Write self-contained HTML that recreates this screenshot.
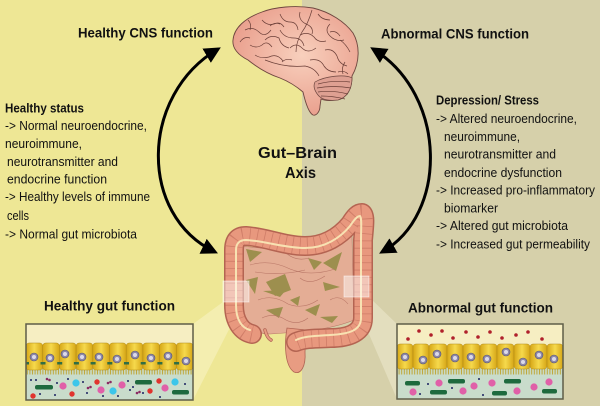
<!DOCTYPE html>
<html><head><meta charset="utf-8">
<style>
html,body{margin:0;padding:0;width:600px;height:406px;overflow:hidden;background:#eee795}
svg{display:block}
text{font-family:"Liberation Sans",sans-serif;fill:#111}
.b{font-weight:bold}
</style></head>
<body>
<svg width="600" height="406" viewBox="0 0 600 406" xmlns="http://www.w3.org/2000/svg">
<defs>
<radialGradient id="brainG" cx="0.55" cy="0.45" r="0.6">
<stop offset="0" stop-color="#f8d0bd"/><stop offset="1" stop-color="#e99d8b"/>
</radialGradient>
<linearGradient id="cellG" x1="0" y1="0" x2="1" y2="0">
<stop offset="0" stop-color="#d6a616"/><stop offset="0.5" stop-color="#f6d94c"/><stop offset="1" stop-color="#d6a616"/>
</linearGradient>
<pattern id="villi" width="2.6" height="8" patternUnits="userSpaceOnUse">
<rect width="2.6" height="8" fill="#c9dccb"/>
<path d="M1.3 0 L1.3 6.5" stroke="#bfa634" stroke-width="1"/>
</pattern>
<marker id="ah" viewBox="0 0 10 10" refX="8" refY="5" markerWidth="5.5" markerHeight="5.5" orient="auto-start-reverse" markerUnits="strokeWidth">
<path d="M0 0 L10 5 L0 10 Z" fill="#000"/>
</marker>
</defs>

<!-- backgrounds -->
<rect x="0" y="0" width="302" height="406" fill="#eee795"/>
<rect x="302" y="0" width="298" height="406" fill="#d6d0aa"/>

<!-- beams -->
<polygon points="223,302 243,302 193,400 193,324" fill="#fbf7d0" opacity="0.45"/>
<polygon points="353,297 369,297 397,324 397,399" fill="#f3efd6" opacity="0.45"/>

<!-- arrows -->
<path d="M 218 49 C 140 95, 138 215, 215 252" fill="none" stroke="#000" stroke-width="3" marker-start="url(#ah)" marker-end="url(#ah)"/>
<path d="M 373 49 C 448 95, 448 215, 382 252" fill="none" stroke="#000" stroke-width="3" marker-start="url(#ah)" marker-end="url(#ah)"/>

<!-- brain -->
<path d="M 233 40 C 234 28, 245 18, 262 12 C 275 7, 295 5, 313 8 C 330 12, 345 22, 353 33 C 360 45, 360 62, 352 76 C 352 88, 348 96, 340 99 C 333 101, 325 101, 321 99 L 320 106 C 320 112, 316 116, 313 115 C 309 113, 306 105, 303 92 C 296 86, 290 82, 280 78 C 268 74, 258 68, 248 60 C 238 55, 232 48, 233 40 Z" fill="url(#brainG)" stroke="#6e463f" stroke-width="0.9"/>
<path d="M 315 82 C 325 76, 345 74, 352 78 C 352 90, 346 98, 338 100 C 330 101, 322 100, 318 95 C 314 90, 313 86, 315 82 Z" fill="#dea092" stroke="#6e463f" stroke-width="0.7"/>
<g fill="none" stroke="#6b3f38" stroke-width="0.7">
<path d="M 318 84 q 15 -4 32 -2"/><path d="M 317 88 q 16 -3 34 0"/><path d="M 318 92 q 14 -2 30 2"/><path d="M 321 96 q 12 0 24 3"/>
<path d="M 245 30 q 8 -4 14 2 t 12 -2"/>
<path d="M 250 45 q 6 4 12 0 q 5 -5 10 2"/>
<path d="M 262 20 q 5 6 12 4 q 6 -3 10 3"/>
<path d="M 280 14 q 3 8 10 8 q 7 0 8 8"/>
<path d="M 300 12 q -2 8 6 12 q 8 3 6 10"/>
<path d="M 318 14 q 4 6 12 6"/>
<path d="M 330 24 q -6 6 0 12 q 6 6 14 4"/>
<path d="M 340 40 q 6 4 10 12"/>
<path d="M 325 50 q 8 -2 12 6 q 2 8 10 10"/>
<path d="M 300 35 q 8 -4 14 2 q 4 6 12 4"/>
<path d="M 280 30 q 4 8 14 8 q 8 0 10 8"/>
<path d="M 265 40 q 6 -6 14 -2 q 2 8 10 10"/>
<path d="M 255 55 q 6 4 14 2 q 8 -4 14 4"/>
<path d="M 290 48 q 6 -6 12 0 q 6 6 14 0"/>
<path d="M 310 60 q 10 -2 14 6 q 4 6 12 6"/>
<path d="M 265 60 q 20 8 40 6 q 10 2 14 10"/>
<path d="M 240 42 q 4 -6 10 -4"/>
<path d="M 345 62 q -4 6 -2 12"/>
<path d="M 312 10 q -4 14 -10 22 q -6 10 -6 20"/>
<path d="M 270 26 q 4 -4 10 -2"/>
<path d="M 330 32 q 6 -2 10 4"/>
<path d="M 248 20 q 4 4 2 10"/>
<path d="M 282 62 q 4 -4 10 -2"/>
<path d="M 338 72 q 6 -2 10 2"/>
</g>

<!-- gut interior -->
<path d="M 243 246 C 270 250, 320 252, 352 236 L 354 320 C 330 330, 300 332, 270 334 C 255 334, 245 325, 243 315 Z" fill="#e4ad95" stroke="#b87666" stroke-width="0.6"/>
<g fill="#9d8f4e">
<polygon points="246,249 262,252 250,262"/>
<polygon points="323,263 342,252 336,271"/>
<polygon points="308,258 322,262 314,270"/>
<polygon points="323,282 340,287 325,291"/>
<polygon points="266,282 285,274 291,290 275,296"/>
<polygon points="246,280 258,277 255,294"/>
<polygon points="266,310 283,307 279,318"/>
<polygon points="305,310 320,304 316,316"/>
<polygon points="320,317 338,316 332,323"/>
<polygon points="263,291 286,290 280,297"/>
<polygon points="290,300 300,296 298,306"/>
</g>
<g fill="none" stroke="#b87666" stroke-width="0.6">
<path d="M 250 265 q 20 -6 40 4 q 20 8 45 0"/>
<path d="M 255 272 q 25 4 50 -2"/>
<path d="M 258 300 q 15 -6 30 4 q 15 6 30 -4"/>
<path d="M 300 278 q 10 8 25 -2"/>
<path d="M 262 318 q 12 -6 24 2 q 12 6 22 -2"/>
<path d="M 285 252 q 10 10 24 6"/>
<path d="M 330 300 q 10 -6 18 4"/>
</g>

<!-- rectum -->
<path d="M 287 328 C 284 345, 285 366, 294 372 C 301 375, 306 366, 305 352 L 306 330 Z" fill="#e89c82" stroke="#b06454" stroke-width="0.8"/>
<!-- appendix -->
<path d="M 265 330 q 2 8 6 10" fill="none" stroke="#b06454" stroke-width="3.5" stroke-linecap="round"/>
<path d="M 265 330 q 2 8 6 10" fill="none" stroke="#e89c82" stroke-width="2" stroke-linecap="round"/>

<!-- colon -->
<g fill="none" stroke-linecap="round" stroke-linejoin="round">
<path d="M 252 334 C 242 332, 234 322, 234 305 L 234 250 C 234 240, 238 236, 246 236 C 265 237, 285 246, 305 246 C 325 246, 340 236, 350 224 C 355 216, 358 213, 362 213 C 366 215, 364 228, 363 240 L 363 318 C 363 332, 350 338, 330 338 C 315 339, 305 338, 296 342" stroke="#b46452" stroke-width="20"/>
<path d="M 252 334 C 242 332, 234 322, 234 305 L 234 250 C 234 240, 238 236, 246 236 C 265 237, 285 246, 305 246 C 325 246, 340 236, 350 224 C 355 216, 358 213, 362 213 C 366 215, 364 228, 363 240 L 363 318 C 363 332, 350 338, 330 338 C 315 339, 305 338, 296 342" stroke="#e8987e" stroke-width="17"/>
<path d="M 252 334 C 242 332, 234 322, 234 305 L 234 250 C 234 240, 238 236, 246 236 C 265 237, 285 246, 305 246 C 325 246, 340 236, 350 224 C 355 216, 358 213, 362 213 C 366 215, 364 228, 363 240 L 363 318 C 363 332, 350 338, 330 338 C 315 339, 305 338, 296 342" stroke="#cf7d68" stroke-width="17" stroke-dasharray="0.8 6.5" stroke-linecap="butt"/>
<path d="M 250 330 C 242 328, 236 320, 236 305 L 236 250 C 236 243, 240 240, 246 240 C 265 241, 285 248, 305 248 C 325 248, 340 238, 350 226 C 354 220, 357 216, 360 216 C 362 218, 361 228, 361 240 L 361 318 C 361 330, 350 334, 330 335 C 315 336, 305 336, 296 340" stroke="#f8e2b2" stroke-width="2"/>
</g>

<!-- squares -->
<rect x="223" y="281" width="26" height="21" fill="#ffffff" fill-opacity="0.45" stroke="#ffffff" stroke-opacity="0.6" stroke-width="0.8"/>
<rect x="344" y="276" width="25" height="21" fill="#ffffff" fill-opacity="0.45" stroke="#ffffff" stroke-opacity="0.6" stroke-width="0.8"/>

<!-- LEFT cell box -->
<rect x="26" y="324" width="167" height="76" fill="#f6eec2"/>
<rect x="26" y="368" width="167" height="9" fill="url(#villi)"/>
<rect x="26" y="376" width="167" height="24" fill="#c9dccb"/>
<g stroke="#b08a18" stroke-width="0.5" fill="url(#cellG)">
<rect x="26" y="343" width="16.7" height="27" rx="3"/>
<rect x="42.7" y="343" width="16.7" height="27" rx="3"/>
<rect x="59.4" y="343" width="16.7" height="27" rx="3"/>
<rect x="76.1" y="343" width="16.7" height="27" rx="3"/>
<rect x="92.8" y="343" width="16.7" height="27" rx="3"/>
<rect x="109.5" y="343" width="16.7" height="27" rx="3"/>
<rect x="126.2" y="343" width="16.7" height="27" rx="3"/>
<rect x="142.9" y="343" width="16.7" height="27" rx="3"/>
<rect x="159.6" y="343" width="16.7" height="27" rx="3"/>
<rect x="176.3" y="343" width="16.7" height="27" rx="3"/>
</g>
<g fill="#2f6e45">
<rect x="40.5" y="362" width="5" height="2.5"/><rect x="57.2" y="362" width="5" height="2.5"/><rect x="73.9" y="362" width="5" height="2.5"/>
<rect x="90.6" y="362" width="5" height="2.5"/><rect x="107.3" y="362" width="5" height="2.5"/><rect x="124" y="362" width="5" height="2.5"/>
<rect x="140.7" y="362" width="5" height="2.5"/><rect x="157.4" y="362" width="5" height="2.5"/><rect x="174.1" y="362" width="5" height="2.5"/>
<rect x="26" y="362" width="3" height="2.5"/>
</g>
<g fill="#8d88a8" stroke="#55516b" stroke-width="0.6">
<circle cx="34" cy="357" r="4"/><circle cx="50" cy="358" r="4"/><circle cx="65" cy="354" r="4"/><circle cx="82" cy="357" r="4"/><circle cx="99" cy="357" r="4"/>
<circle cx="117" cy="359" r="4"/><circle cx="135" cy="355" r="4"/><circle cx="151" cy="358" r="4"/><circle cx="168" cy="356" r="4"/><circle cx="186" cy="361" r="4"/>
</g>
<g fill="#dcdaea">
<circle cx="34" cy="357" r="2"/><circle cx="50" cy="358" r="2"/><circle cx="65" cy="354" r="2"/><circle cx="82" cy="357" r="2"/><circle cx="99" cy="357" r="2"/>
<circle cx="117" cy="359" r="2"/><circle cx="135" cy="355" r="2"/><circle cx="151" cy="358" r="2"/><circle cx="168" cy="356" r="2"/><circle cx="186" cy="361" r="2"/>
</g>
<g fill="#1e6a3e">
<rect x="35" y="385" width="18" height="4.5" rx="2"/><rect x="135" y="380" width="17" height="4.5" rx="2"/><rect x="172" y="390" width="17" height="4.5" rx="2"/>
</g>
<g fill="#e060a8"><circle cx="63" cy="386" r="3.6"/><circle cx="101" cy="390" r="3.6"/><circle cx="122" cy="385" r="3.6"/><circle cx="165" cy="388" r="3.6"/></g>
<g fill="#3cc6ea"><circle cx="76" cy="383" r="3.6"/><circle cx="113" cy="391" r="3.6"/><circle cx="175" cy="382" r="3.6"/></g>
<g fill="#e0342e"><circle cx="97" cy="382" r="2.7"/><circle cx="72" cy="394" r="2.7"/><circle cx="159" cy="381" r="2.7"/><circle cx="150" cy="391" r="2.7"/><circle cx="33" cy="396" r="2.7"/></g>
<g fill="#8a2a62"><circle cx="47" cy="379" r="1.3"/><circle cx="49.5" cy="380" r="1.3"/><circle cx="108" cy="383" r="1.3"/><circle cx="110.5" cy="382" r="1.3"/><circle cx="88" cy="388" r="1.3"/><circle cx="90.5" cy="387" r="1.3"/><circle cx="137" cy="393" r="1.3"/><circle cx="139.5" cy="392" r="1.3"/></g>
<g fill="#1a2060"><circle cx="31" cy="380" r="1"/><circle cx="36" cy="380" r="1"/><circle cx="40" cy="394" r="1"/><circle cx="55" cy="395" r="1"/><circle cx="68" cy="379" r="1"/><circle cx="83" cy="382" r="1"/><circle cx="87" cy="393" r="1"/><circle cx="103" cy="396" r="1"/><circle cx="130" cy="390" r="1"/><circle cx="133" cy="387" r="1"/><circle cx="143" cy="393" r="1"/><circle cx="185" cy="384" r="1"/><circle cx="57" cy="383" r="1"/><circle cx="118" cy="396" r="1"/><circle cx="128" cy="381" r="1"/><circle cx="160" cy="397" r="1"/></g>
<rect x="26" y="324" width="167" height="76" fill="none" stroke="#5e5d48" stroke-width="1.5"/>

<!-- RIGHT cell box -->
<rect x="397" y="324" width="166" height="75" fill="#f6eec2"/>
<g fill="#b0202a">
<circle cx="408" cy="339" r="1.8"/><circle cx="419" cy="331" r="1.8"/><circle cx="431" cy="335" r="1.8"/><circle cx="442" cy="331" r="1.8"/><circle cx="453" cy="338" r="1.8"/><circle cx="466" cy="332" r="1.8"/>
<circle cx="478" cy="337" r="1.8"/><circle cx="490" cy="332" r="1.8"/><circle cx="502" cy="338" r="1.8"/><circle cx="516" cy="335" r="1.8"/><circle cx="528" cy="332" r="1.8"/><circle cx="542" cy="339" r="1.8"/>
</g>
<rect x="397" y="367" width="166" height="9" fill="url(#villi)"/>
<rect x="397" y="375" width="166" height="24" fill="#c9dccb"/>
<g stroke="#b08a18" stroke-width="0.5" fill="url(#cellG)">
<rect x="397" y="344" width="16" height="25" rx="3"/>
<rect x="413" y="344" width="16" height="25" rx="3"/>
<rect x="429" y="344" width="18" height="25" rx="3"/>
<rect x="447" y="344" width="16" height="25" rx="3"/>
<rect x="463" y="344" width="17" height="25" rx="3"/>
<rect x="480" y="344" width="17" height="25" rx="3"/>
<rect x="497" y="344" width="17" height="25" rx="3"/>
<rect x="514" y="344" width="16" height="25" rx="3"/>
<rect x="530" y="344" width="17" height="25" rx="3"/>
<rect x="547" y="344" width="16" height="25" rx="3"/>
</g>
<g fill="#8d88a8" stroke="#55516b" stroke-width="0.6">
<circle cx="405" cy="357" r="4"/><circle cx="423" cy="360" r="4"/><circle cx="437" cy="354" r="4"/><circle cx="455" cy="358" r="4"/><circle cx="471" cy="357" r="4"/>
<circle cx="487" cy="359" r="4"/><circle cx="506" cy="352" r="4"/><circle cx="523" cy="362" r="4"/><circle cx="539" cy="355" r="4"/><circle cx="554" cy="359" r="4"/>
</g>
<g fill="#dcdaea">
<circle cx="405" cy="357" r="2"/><circle cx="423" cy="360" r="2"/><circle cx="437" cy="354" r="2"/><circle cx="455" cy="358" r="2"/><circle cx="471" cy="357" r="2"/>
<circle cx="487" cy="359" r="2"/><circle cx="506" cy="352" r="2"/><circle cx="523" cy="362" r="2"/><circle cx="539" cy="355" r="2"/><circle cx="554" cy="359" r="2"/>
</g>
<g fill="#1e6a3e">
<rect x="405" y="381" width="15" height="4.5" rx="2"/><rect x="448" y="379" width="17" height="4.5" rx="2"/><rect x="504" y="379" width="17" height="4.5" rx="2"/>
<rect x="430" y="390" width="17" height="4.5" rx="2"/><rect x="492" y="391" width="15" height="4.5" rx="2"/><rect x="542" y="389" width="15" height="4.5" rx="2"/>
</g>
<g fill="#e060a8"><circle cx="439" cy="383" r="3.6"/><circle cx="413" cy="392" r="3.6"/><circle cx="474" cy="386" r="3.6"/><circle cx="463" cy="391" r="3.6"/><circle cx="492" cy="383" r="3.6"/><circle cx="517" cy="391" r="3.6"/><circle cx="534" cy="387" r="3.6"/><circle cx="549" cy="382" r="3.6"/></g>
<g fill="#1a2060"><circle cx="428" cy="384" r="1"/><circle cx="452" cy="388" r="1"/><circle cx="479" cy="379" r="1"/><circle cx="420" cy="394" r="1"/><circle cx="483" cy="395" r="1"/></g>
<rect x="397" y="324" width="166" height="75" fill="none" stroke="#5e5d48" stroke-width="1.5"/>

<!-- titles -->
<text class="b" x="78" y="37.5" font-size="14" textLength="135" lengthAdjust="spacingAndGlyphs">Healthy CNS function</text>
<text class="b" x="381" y="38.5" font-size="14" textLength="148" lengthAdjust="spacingAndGlyphs">Abnormal CNS function</text>
<text class="b" x="258" y="158" font-size="16" textLength="79" lengthAdjust="spacingAndGlyphs">Gut–Brain</text>
<text class="b" x="285" y="178" font-size="16" textLength="31" lengthAdjust="spacingAndGlyphs">Axis</text>
<text class="b" x="44" y="310.5" font-size="14" textLength="131" lengthAdjust="spacingAndGlyphs">Healthy gut function</text>
<text class="b" x="408" y="312.5" font-size="14" textLength="145" lengthAdjust="spacingAndGlyphs">Abnormal gut function</text>

<!-- left text -->
<text class="b" x="5" y="112.5" font-size="13" textLength="79" lengthAdjust="spacingAndGlyphs">Healthy status</text>
<g font-size="12.5">
<text x="5" y="130" textLength="142" lengthAdjust="spacingAndGlyphs">-&gt; Normal neuroendocrine,</text>
<text x="5" y="148" textLength="77" lengthAdjust="spacingAndGlyphs">neuroimmune,</text>
<text x="7" y="166" textLength="111" lengthAdjust="spacingAndGlyphs">neurotransmitter and</text>
<text x="7" y="183.5" textLength="100" lengthAdjust="spacingAndGlyphs">endocrine function</text>
<text x="5" y="201" textLength="145" lengthAdjust="spacingAndGlyphs">-&gt; Healthy levels of immune</text>
<text x="7" y="220" textLength="22" lengthAdjust="spacingAndGlyphs">cells</text>
<text x="5" y="238.5" textLength="132" lengthAdjust="spacingAndGlyphs">-&gt; Normal gut microbiota</text>
</g>

<!-- right text -->
<text class="b" x="436" y="104.5" font-size="13" textLength="103" lengthAdjust="spacingAndGlyphs">Depression/ Stress</text>
<g font-size="12.5">
<text x="436" y="123" textLength="141" lengthAdjust="spacingAndGlyphs">-&gt; Altered neuroendocrine,</text>
<text x="444" y="141" textLength="76" lengthAdjust="spacingAndGlyphs">neuroimmune,</text>
<text x="444" y="158.5" textLength="112" lengthAdjust="spacingAndGlyphs">neurotransmitter and</text>
<text x="444" y="177" textLength="118" lengthAdjust="spacingAndGlyphs">endocrine dysfunction</text>
<text x="436" y="194.5" textLength="159" lengthAdjust="spacingAndGlyphs">-&gt; Increased pro-inflammatory</text>
<text x="444" y="212.5" textLength="54" lengthAdjust="spacingAndGlyphs">biomarker</text>
<text x="436" y="230" textLength="132" lengthAdjust="spacingAndGlyphs">-&gt; Altered gut microbiota</text>
<text x="436" y="248.5" textLength="154" lengthAdjust="spacingAndGlyphs">-&gt; Increased gut permeability</text>
</g>
</svg>
</body></html>
